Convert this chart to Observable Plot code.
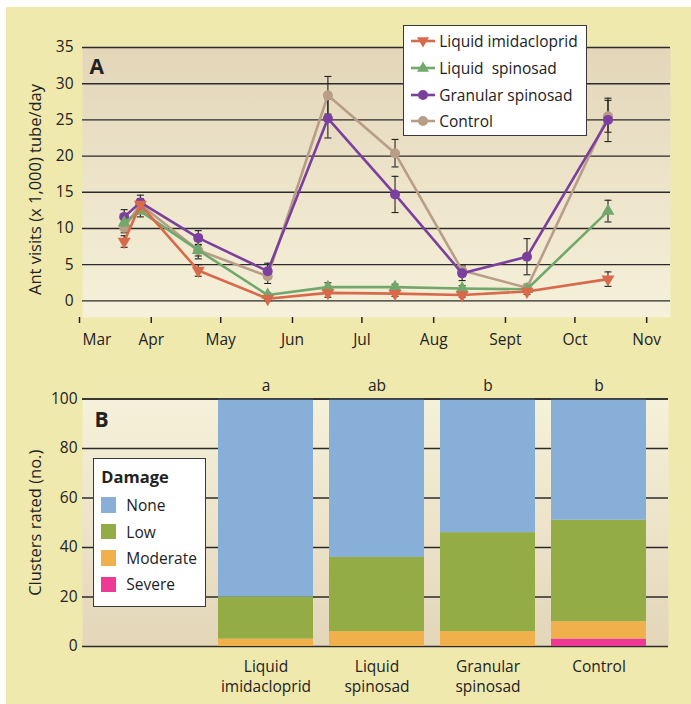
<!DOCTYPE html>
<html><head><meta charset="utf-8">
<script src="https://cdn.jsdelivr.net/npm/d3@7"></script>
<script src="https://cdn.jsdelivr.net/npm/@observablehq/plot@0.6"></script>
<style>
body{margin:0;background:#fff;font-family:"Open Sans",sans-serif;}
#wrap{position:relative;width:691px;height:704px;overflow:hidden;background:#fff;}
#panel{position:absolute;left:6px;top:7px;width:685px;height:697px;background:#f0e9ae;}
#chartA{position:absolute;left:0;top:0;}
#chartB{position:absolute;left:0;top:360px;}
.legend{position:absolute;background:#fff;border:1.5px solid #3a3a3a;box-sizing:border-box;color:#222;font-size:15.5px;font-family:"Open Sans",sans-serif;}
.row{position:absolute;left:0;height:26px;display:flex;align-items:center;white-space:pre;}
</style></head><body>
<div id="wrap"><div id="panel"></div><div id="chartA"></div><div id="chartB"></div><div id="legA" class="legend"></div><div id="legB" class="legend"></div></div>
<script>
// ---------- Panel A data ----------
const sampleDates = ["2005-03-19","2005-03-26","2005-04-20","2005-05-20","2005-06-15","2005-07-14","2005-08-12","2005-09-09","2005-10-14"];
const seriesNames = ["Liquid imidacloprid","Liquid  spinosad","Granular spinosad","Control"];
const imidacloprid     = [8.2, 13.3, 4.2, 0.3, 1.1, 1.0, 0.8, 1.3, 3.0];
const liquidSpinosad   = [10.8, 12.4, 7.0, 0.8, 1.9, 1.9, 1.7, 1.6, 12.4];
const granularSpinosad = [11.6, 13.6, 8.7, 4.1, 25.2, 14.7, 3.8, 6.1, 25.0];
const control          = [10.1, 13.3, 7.0, 3.4, 28.4, 20.4, 4.2, 1.8, 25.5];
const imidaclopridSE     = [0.8, 0.5, 0.8, 0.3, 0.6, 0.4, 0.3, 0.4, 1.0];
const liquidSpinosadSE   = [0.8, 0.8, 1.2, 0.3, 0.6, 0.4, 0.4, 0.3, 1.5];
const granularSpinosadSE = [1.0, 1.0, 1.0, 1.1, 2.7, 2.5, 1.0, 2.5, 3.0];
const controlSE          = [0.7, 0.8, 0.8, 1.0, 2.6, 1.9, 0.8, 0.5, 2.2];
const seriesColors = ["#d8694a","#73a86d","#7b3f9e","#b89d87"];
const yTicksA = [0,5,10,15,20,25,30,35];
const monthDates = ["2005-03-01","2005-04-01","2005-05-01","2005-06-01","2005-07-01","2005-08-01","2005-09-01","2005-10-01","2005-11-01"];
const monthLabels = ["Mar","Apr","May","Jun","Jul","Aug","Sept","Oct","Nov"];

// ---------- Panel B data ----------
const treatments = ["Liquid imidacloprid","Liquid spinosad","Granular spinosad","Control"];
const treatmentLabels = ["Liquid\nimidacloprid","Liquid\nspinosad","Granular\nspinosad","Control"];
const sigLetters = ["a","ab","b","b"];
const damageLevels = ["None","Low","Moderate","Severe"];
const damageColors = ["#87afd7","#94ac46","#f0b04c","#ee3a94"];
const noneCounts     = [80, 64, 54, 49];
const lowCounts      = [17, 30, 40, 41];
const moderateCounts = [3, 6, 6, 7];
const severeCounts   = [0, 0, 0, 3];
const yTicksB = [0,20,40,60,80,100];

// ---------- symbols ----------
function tri(down){
  return {draw(ctx, size){
    const s = Math.sqrt(size*4/Math.sqrt(3)), h = s*Math.sqrt(3)/2;
    if (down){ ctx.moveTo(-s/2,-h/3); ctx.lineTo(s/2,-h/3); ctx.lineTo(0,2*h/3); }
    else { ctx.moveTo(0,-2*h/3); ctx.lineTo(s/2,h/3); ctx.lineTo(-s/2,h/3); }
    ctx.closePath();
  }};
}
const capSym = {draw(ctx){ ctx.moveTo(-3.5,0); ctx.lineTo(3.5,0); }};
const seriesSymbols = [tri(true), tri(false), "circle", "circle"];
const seriesR = [4.8, 4.8, 5, 5];

const values = [imidacloprid, liquidSpinosad, granularSpinosad, control];
const ses = [imidaclopridSE, liquidSpinosadSE, granularSpinosadSE, controlSE];
const rows = [];
seriesNames.forEach((s, si) => sampleDates.forEach((d, i) =>
  rows.push({series: s, si, date: new Date(d), value: values[si][i], se: ses[si][i]})));

const styleStr = "font-family:'Open Sans',sans-serif;font-size:15.5px;color:#222;background:transparent;overflow:visible;";

function addGradient(svg, id, top, bottom){
  const defs = d3.select(svg).insert("defs", ":first-child");
  const g = defs.append("linearGradient").attr("id", id).attr("x1",0).attr("y1",0).attr("x2",0).attr("y2",1);
  g.append("stop").attr("offset","0%").attr("stop-color", top);
  g.append("stop").attr("offset","100%").attr("stop-color", bottom);
}

// ---------- Chart A ----------
const mDates = monthDates.map(d => new Date(d));
const labelByTime = new Map(mDates.map((d,i) => [+d, i === 0 ? "" : monthLabels[i]]));
const marksA = [
  Plot.frame({fill: "url(#gradA)", stroke: "none"}),
  Plot.ruleY(yTicksA, {stroke: "#2b2b2b", strokeWidth: 1.4}),
  Plot.axisY({ticks: yTicksA, tickSize: 0, tickPadding: 9, label: null}),
  Plot.axisX({ticks: mDates, tickSize: 6, tickPadding: 10, strokeWidth: 1.5, dx: -3, tickFormat: d => labelByTime.get(+d) ?? "", label: null}),
  Plot.text(["Mar"], {x: () => mDates[0], frameAnchor: "bottom", textAnchor: "start", lineAnchor: "top", dy: 16, fill: "#222"}),
  Plot.text(["Ant visits (x 1,000) tube/day"], {frameAnchor: "left", textAnchor: "middle", rotate: -90, dx: -47, dy: 7, fontSize: 16.5, fill: "#222"}),
  Plot.text(["A"], {frameAnchor: "top-left", dx: 7, dy: 20, lineAnchor: "middle", fontSize: 21, fontWeight: "bold", fill: "#222"}),
  Plot.ruleX(rows, {x: "date", y1: d => d.value - d.se, y2: d => d.value + d.se, stroke: "#222", strokeWidth: 1.1}),
  Plot.dot(rows, {x: "date", y: d => d.value + d.se, symbol: capSym, r: 3, stroke: "#222", fill: "none", strokeWidth: 1.1}),
  Plot.dot(rows, {x: "date", y: d => d.value - d.se, symbol: capSym, r: 3, stroke: "#222", fill: "none", strokeWidth: 1.1})
];
[3,2,1,0].forEach(si => {
  const data = rows.filter(d => d.si === si);
  marksA.push(Plot.line(data, {x: "date", y: "value", stroke: seriesColors[si], strokeWidth: 2.6}));
  marksA.push(Plot.dot(data, {x: "date", y: "value", symbol: seriesSymbols[si], r: seriesR[si], fill: seriesColors[si], stroke: "none"}));
});
const chartA = Plot.plot({
  width: 691, height: 355,
  marginLeft: 82, marginRight: 21, marginTop: 47, marginBottom: 38,
  style: styleStr,
  x: {type: "utc", domain: [new Date("2005-03-01"), new Date("2005-11-10")]},
  y: {domain: [-2.3, 35]},
  marks: marksA
});
addGradient(chartA, "gradA", "#e3d6b9", "#f6f1da");
document.getElementById("chartA").append(chartA);

// ---------- Chart B ----------
const counts = {None: noneCounts, Low: lowCounts, Moderate: moderateCounts, Severe: severeCounts};
const barRows = [];
treatments.forEach((t, i) => ["Severe","Moderate","Low","None"].forEach(lv =>
  barRows.push({treatment: t, damage: lv, count: counts[lv][i]})));
const chartB = Plot.plot({
  width: 691, height: 344,
  marginLeft: 82, marginRight: 23, marginTop: 38.5, marginBottom: 58,
  style: styleStr,
  x: {type: "band", domain: treatments, range: [207.7, 655.6], paddingInner: 0.148, paddingOuter: 0.074, align: 0.5, axis: null},
  y: {domain: [0, 100], axis: null},
  color: {domain: damageLevels, range: damageColors},
  marks: [
    Plot.frame({fill: "url(#gradB)", stroke: "none"}),
    Plot.ruleY(yTicksB, {stroke: "#2b2b2b", strokeWidth: 1.4}),
    Plot.axisY({ticks: yTicksB, tickSize: 0, tickPadding: 5, label: null}),
    Plot.barY(barRows, {x: "treatment", y: "count", fill: "damage", inset: 0}),
    Plot.ruleY([100], {stroke: "#2b2b2b", strokeWidth: 1.4}),
    Plot.text(treatments, {x: d => d, text: (d, i) => treatmentLabels[i], frameAnchor: "bottom", lineAnchor: "top", dy: 11, lineHeight: 1.29, fill: "#222"}),
    Plot.text(treatments, {x: d => d, text: (d, i) => sigLetters[i], frameAnchor: "top", lineAnchor: "middle", dy: -12.5, fill: "#222"}),
    Plot.text(["Clusters rated (no.)"], {frameAnchor: "left", textAnchor: "middle", rotate: -90, dx: -47, fontSize: 16.5, fill: "#222"}),
    Plot.text(["B"], {frameAnchor: "top-left", dx: 12, dy: 21, lineAnchor: "middle", fontSize: 21, fontWeight: "bold", fill: "#222"})
  ]
});
addGradient(chartB, "gradB", "#f6f1da", "#e3d6b9");
document.getElementById("chartB").append(chartB);

// ---------- Legend A ----------
const legA = document.getElementById("legA");
Object.assign(legA.style, {left: "402.7px", top: "25px", width: "184px", height: "111px"});
const symPath = (si) => {
  const c = seriesColors[si];
  if (si === 0) return `<path d="M6,-3.8 L18,-3.8 L12,6.6 Z" fill="${c}"/>`;
  if (si === 1) return `<path d="M12,-6.6 L18,3.8 L6,3.8 Z" fill="${c}"/>`;
  return `<circle cx="12" cy="0" r="5" fill="${c}"/>`;
};
seriesNames.forEach((s, si) => {
  const r = document.createElement("div");
  r.className = "row";
  r.style.top = (16.7 - 1.5 + si*26.7 - 13) + "px";
  r.innerHTML = `<svg width="24" height="16" viewBox="0 -8 24 16" style="margin-left:7.5px;margin-right:4px;overflow:visible"><line x1="0" y1="0" x2="24" y2="0" stroke="${seriesColors[si]}" stroke-width="2.6"/>${symPath(si)}</svg><span>${s}</span>`;
  legA.append(r);
});

// ---------- Legend B ----------
const legB = document.getElementById("legB");
Object.assign(legB.style, {left: "93.3px", top: "458.3px", width: "112.7px", height: "148.4px"});
const title = document.createElement("div");
title.className = "row";
title.style.top = (18.7 - 1.5 - 13) + "px";
title.style.left = "7px";
title.style.fontWeight = "bold";
title.style.fontSize = "16.5px";
title.textContent = "Damage";
legB.append(title);
damageLevels.forEach((lv, i) => {
  const r = document.createElement("div");
  r.className = "row";
  r.style.top = (47.4 - 1.5 + i*26.4 - 13) + "px";
  r.innerHTML = `<span style="display:inline-block;width:15px;height:15.5px;background:${damageColors[i]};margin-left:7px;margin-right:10px"></span><span>${lv}</span>`;
  legB.append(r);
});
</script>
</body></html>
